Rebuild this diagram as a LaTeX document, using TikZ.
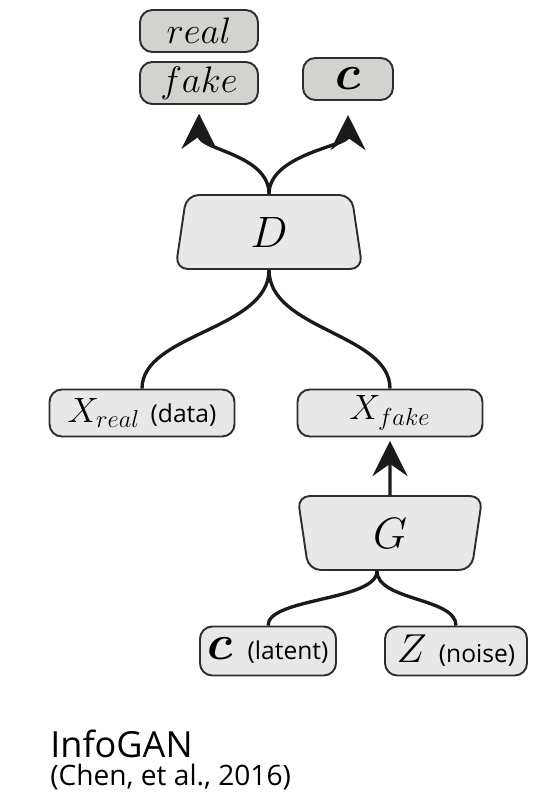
\RequirePackage{fix-cm}
\documentclass[tikz,border=0pt]{standalone}
\usepackage{bm}
\usepackage{fontspec}
\setsansfont{Open Sans}
\usetikzlibrary{shapes.geometric, arrows.meta}
\definecolor{Edge}    {HTML}{2e2e2e}
\definecolor{Wire}    {HTML}{1a1a1a}
\definecolor{BoxFill} {HTML}{e8e8e8}
\definecolor{OutFill} {HTML}{d2d2cf}

\begin{document}
\begin{tikzpicture}[
  x=0.02cm, y=-0.02cm,
  box/.style  = {draw=Edge, fill=BoxFill, rounded corners=7pt, inner sep=0pt,
                 line width=1.1pt, minimum height=0.94cm},
  outbox/.style = {box, fill=OutFill, minimum height=0.84cm},
  net/.style  = {draw=Edge, fill=BoxFill, trapezium, rounded corners=7pt,
                 trapezium left angle=70, trapezium right angle=70,
                 trapezium stretches body=true,
                 line width=1.1pt, inner sep=0pt, minimum height=1.48cm,
                 font=\fontsize{25}{28}\selectfont},
  wire/.style = {draw=Wire, line width=1.9pt},
  tip/.style  = {wire, -{Stealth[length=20pt, width=20pt, inset=7pt]}},
  note/.style = {font=\sffamily\fontsize{14}{16}\selectfont},
]
\useasboundingbox (0,0) rectangle (540,804);

% ── Discriminator outputs ─────────────────────────────────────────────────────
\node[outbox, minimum width=2.36cm, font=\fontsize{21}{24}\selectfont]
  (real) at (199,31) {$real$};
\node[outbox, minimum width=2.36cm, font=\fontsize{21}{24}\selectfont]
  (fake) at (199,83) {$fake$};
\node[outbox, minimum width=1.8cm, font=\fontsize{28}{30}\selectfont]
  (code) at (348,79) {$\bm{c}$};

% ── Networks ──────────────────────────────────────────────────────────────────
\node[net, minimum width=3.74cm] (D) at (269,232) {$D$};
\node[net, minimum width=3.7cm, shape border rotate=180] (G) at (390,533) {$G$};

% ── Samples and inputs ────────────────────────────────────────────────────────
\node[box, minimum width=3.7cm, font=\fontsize{20}{22}\selectfont]
  (xreal) at (142,413) {$X_{real}$\ {\sffamily\fontsize{14}{16}\selectfont(data)}};
\node[box, minimum width=3.7cm, font=\fontsize{20}{22}\selectfont]
  (xfake) at (390,413) {$X_{fake}$};
\node[box, minimum width=2.72cm, minimum height=0.98cm, font=\fontsize{28}{30}\selectfont]
  (latent) at (268,651) {$\bm{c}$\ {\sffamily\fontsize{14}{16}\selectfont(latent)}};
\node[box, minimum width=2.84cm, minimum height=0.98cm, font=\fontsize{23}{26}\selectfont]
  (noise) at (456,651) {$Z$\ {\sffamily\fontsize{14}{16}\selectfont(noise)}};

% ── Connectors ────────────────────────────────────────────────────────────────
\draw[tip, shorten >=5pt] (D.north) .. controls +(0,-40) and +(0,45) .. (fake.south);
\draw[tip, shorten >=8pt] (D.north) .. controls +(0,-40) and +(0,45) .. (code.south);

\draw[wire] (D.south) .. controls +(0,60) and +(0,-55) .. (xreal.north);
\draw[wire] (D.south) .. controls +(0,60) and +(0,-55) .. (xfake.north);

\draw[tip, shorten >=2pt] (G.north) -- (xfake.south);

\coordinate (gsplit) at ([xshift=-0.26cm]G.south);
\draw[wire] (gsplit) .. controls +(0,30) and +(0,-28) .. (latent.north);
\draw[wire] (gsplit) .. controls +(0,30) and +(0,-28) .. (noise.north);

% ── Caption ───────────────────────────────────────────────────────────────────
\node[font=\sffamily\fontsize{20.5}{24}\selectfont, anchor=base west, inner sep=0pt]
  (title) at (50,757) {InfoGAN};
\node[font=\sffamily\fontsize{16}{19}\selectfont, anchor=base west, inner sep=0pt]
  (cite) at (50,785) {(Chen, et al., 2016)};

\end{tikzpicture}
\end{document}
